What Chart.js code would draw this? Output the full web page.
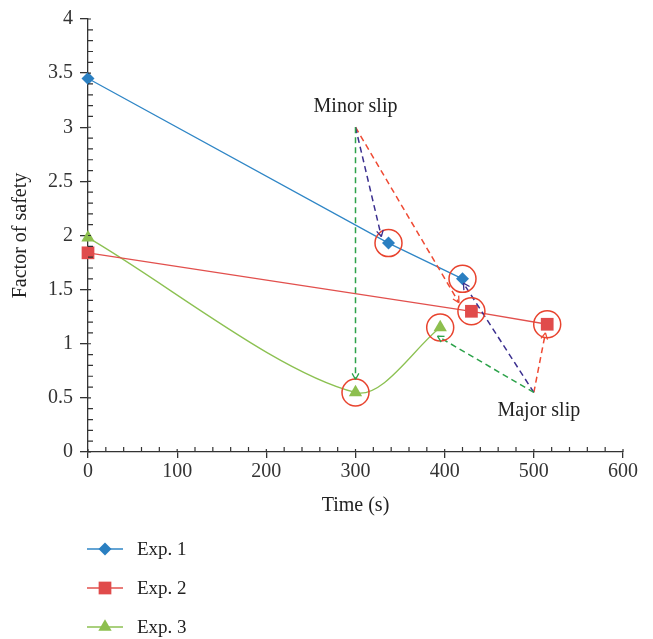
<!DOCTYPE html>
<html>
<head>
<meta charset="utf-8">
<script src="https://cdn.jsdelivr.net/npm/chart.js@4"></script>
<style>
  body { margin: 0; background: #fff; }
  #wrap { position: relative; width: 653px; height: 639px; font-family: "Liberation Serif", "DejaVu Serif", serif; color: #222; }
  #chart-box { position: absolute; left: 0; top: 0; width: 653px; height: 520px; }
  #legend { position: absolute; left: 86px; top: 529px; list-style: none; margin: 0; padding: 0; }
  #legend li { display: flex; align-items: center; height: 39px; font-size: 19px; }
  #legend canvas { margin-right: 13px; }
</style>
</head>
<body>
<div id="wrap">
  <div id="chart-box"><canvas id="fos-chart"></canvas></div>
  <ul id="legend"></ul>
</div>
<script>
const exp1Time = [0, 337, 420];
const exp1Fos = [3.45, 1.93, 1.6];
const exp2Time = [0, 430, 515];
const exp2Fos = [1.84, 1.3, 1.18];
const exp3Time = [0, 300, 395];
const exp3Fos = [1.98, 0.55, 1.15];

// slip events: arrow origin and where each arrow ends (Exp. 3, Exp. 1, Exp. 2)
const minorSlip = [300, 3.0];
const majorSlip = [500, 0.55];
const minorSlipEnds = [[300, 0.67], [329, 1.99], [416, 1.38]];
const majorSlipEnds = [[392, 1.07], [421, 1.56], [513, 1.1]];

const axisColor = "#333";
const fontFamily = '"Liberation Serif", "DejaVu Serif", serif';
const arrowColors = ["#2ca24a", "#3b2f8f", "#ef4a33"];
const circleColor = "#e8432e";

const toPoints = (xs, ys) => xs.map((x, i) => ({ x, y: ys[i] }));

const series = [
  { label: "Exp. 1", data: toPoints(exp1Time, exp1Fos), color: "#2f86c6", marker: "#2a7fc1", style: "rectRot", radius: 6.5, tension: 0 },
  { label: "Exp. 2", data: toPoints(exp2Time, exp2Fos), color: "#e2504d", marker: "#e04b4b", style: "rect", radius: 9, tension: 0 },
  { label: "Exp. 3", data: toPoints(exp3Time, exp3Fos), color: "#8cc152", marker: "#8dbf4e", style: "triangle", radius: 7.7, tension: 0.3 },
];

const datasets = series.map((s) => ({
  label: s.label,
  data: s.data,
  showLine: true,
  clip: false,
  borderColor: s.color,
  borderWidth: 1.3,
  tension: s.tension,
  pointStyle: s.style,
  pointRadius: s.radius,
  pointBackgroundColor: s.marker,
  pointBorderColor: s.marker,
  pointBorderWidth: 0,
  order: 3,
}));

// red rings around every point after the start
datasets.push({
  label: "circled",
  data: series.flatMap((s) => s.data.slice(1)),
  showLine: false,
  clip: false,
  pointStyle: "circle",
  pointRadius: 13.5,
  pointBackgroundColor: "rgba(0,0,0,0)",
  pointBorderColor: circleColor,
  pointBorderWidth: 1.5,
  order: 1,
});

function addArrows(origin, ends) {
  ends.forEach((end, i) => {
    datasets.push({
      label: "arrow",
      arrow: true,
      data: [{ x: origin[0], y: origin[1] }, { x: end[0], y: end[1] }],
      showLine: true,
      borderColor: arrowColors[i],
      borderWidth: 1.5,
      borderDash: [6, 4],
      pointRadius: 0,
      order: 2,
    });
  });
}
addArrows(minorSlip, minorSlipEnds);
addArrows(majorSlip, majorSlipEnds);

const arrowHeads = {
  id: "arrowHeads",
  afterDatasetsDraw(chart) {
    const ctx = chart.ctx;
    chart.data.datasets.forEach((ds, i) => {
      if (!ds.arrow) return;
      const pts = chart.getDatasetMeta(i).data;
      const a = pts[0];
      const b = pts[pts.length - 1];
      const ang = Math.atan2(b.y - a.y, b.x - a.x);
      ctx.save();
      ctx.strokeStyle = ds.borderColor;
      ctx.lineWidth = 1.3;
      ctx.beginPath();
      [-1, 1].forEach((s) => {
        ctx.moveTo(b.x, b.y);
        ctx.lineTo(b.x - 7 * Math.cos(ang + s * 0.5), b.y - 7 * Math.sin(ang + s * 0.5));
      });
      ctx.stroke();
      ctx.restore();
    });
  },
};

const slipLabels = {
  id: "slipLabels",
  afterDatasetsDraw(chart) {
    const { ctx, scales: { x, y } } = chart;
    ctx.save();
    ctx.fillStyle = "#222";
    ctx.font = "20px " + fontFamily;
    ctx.textAlign = "center";
    ctx.textBaseline = "middle";
    ctx.fillText("Minor slip", x.getPixelForValue(minorSlip[0]), y.getPixelForValue(minorSlip[1]) - 21);
    ctx.fillText("Major slip", x.getPixelForValue(majorSlip[0]) + 5, y.getPixelForValue(majorSlip[1]) + 18);
    ctx.restore();
  },
};

// small inner ticks between the labelled ones
const minorTicks = {
  id: "minorTicks",
  afterDraw(chart) {
    const { ctx, scales: { x, y } } = chart;
    ctx.save();
    ctx.strokeStyle = axisColor;
    ctx.lineWidth = 1.2;
    ctx.beginPath();
    for (let i = 0; i <= 30; i++) {
      const px = x.getPixelForValue(i * 20);
      ctx.moveTo(px, y.bottom);
      ctx.lineTo(px, y.bottom - (i % 5 === 0 ? 3 : 5));
    }
    for (let i = 0; i <= 40; i++) {
      const py = y.getPixelForValue(i / 10);
      ctx.moveTo(x.left, py);
      ctx.lineTo(x.left + (i % 5 === 0 ? 3 : 5), py);
    }
    ctx.stroke();
    ctx.restore();
  },
};

const tickFont = { family: fontFamily, size: 20 };

new Chart(document.getElementById("fos-chart"), {
  type: "scatter",
  data: { datasets },
  options: {
    responsive: true,
    maintainAspectRatio: false,
    animation: false,
    layout: { padding: { top: 16, right: 30, left: 0, bottom: 0 } },
    plugins: { legend: { display: false }, tooltip: { enabled: false } },
    scales: {
      x: {
        type: "linear",
        min: 0,
        max: 600,
        afterFit: (scale) => { scale.height = 68; },
        ticks: { stepSize: 100, color: axisColor, font: tickFont, padding: 2 },
        grid: { drawOnChartArea: false, color: axisColor, lineWidth: 1.3, tickLength: 6 },
        border: { color: axisColor, width: 1.3 },
        title: { display: true, text: "Time (s)", color: "#222", font: tickFont, padding: { top: 3, bottom: 2 } },
      },
      y: {
        type: "linear",
        min: 0,
        max: 4,
        afterFit: (scale) => { scale.width = 88; },
        ticks: { stepSize: 0.5, color: axisColor, font: tickFont, padding: 7, callback: (v) => String(v) },
        grid: { drawOnChartArea: false, color: axisColor, lineWidth: 1.3, tickLength: 8 },
        border: { color: axisColor, width: 1.3 },
        title: { display: true, text: "Factor of safety", color: "#222", font: tickFont, padding: { top: 9, bottom: 2 } },
      },
    },
  },
  plugins: [arrowHeads, slipLabels, minorTicks],
});

// legend drawn below the plot, one entry per row
const legend = document.getElementById("legend");
series.forEach((s) => {
  const li = document.createElement("li");
  const swatch = document.createElement("canvas");
  swatch.width = 38;
  swatch.height = 20;
  const c = swatch.getContext("2d");
  c.strokeStyle = s.color;
  c.lineWidth = 1.5;
  c.beginPath();
  c.moveTo(1, 10);
  c.lineTo(37, 10);
  c.stroke();
  c.fillStyle = s.marker;
  c.strokeStyle = s.marker;
  c.lineWidth = 0;
  Chart.helpers.drawPoint(c, { pointStyle: s.style, radius: s.radius, borderWidth: 0 }, 19, 10);
  const text = document.createElement("span");
  text.textContent = s.label;
  li.appendChild(swatch);
  li.appendChild(text);
  legend.appendChild(li);
});
</script>
</body>
</html>
